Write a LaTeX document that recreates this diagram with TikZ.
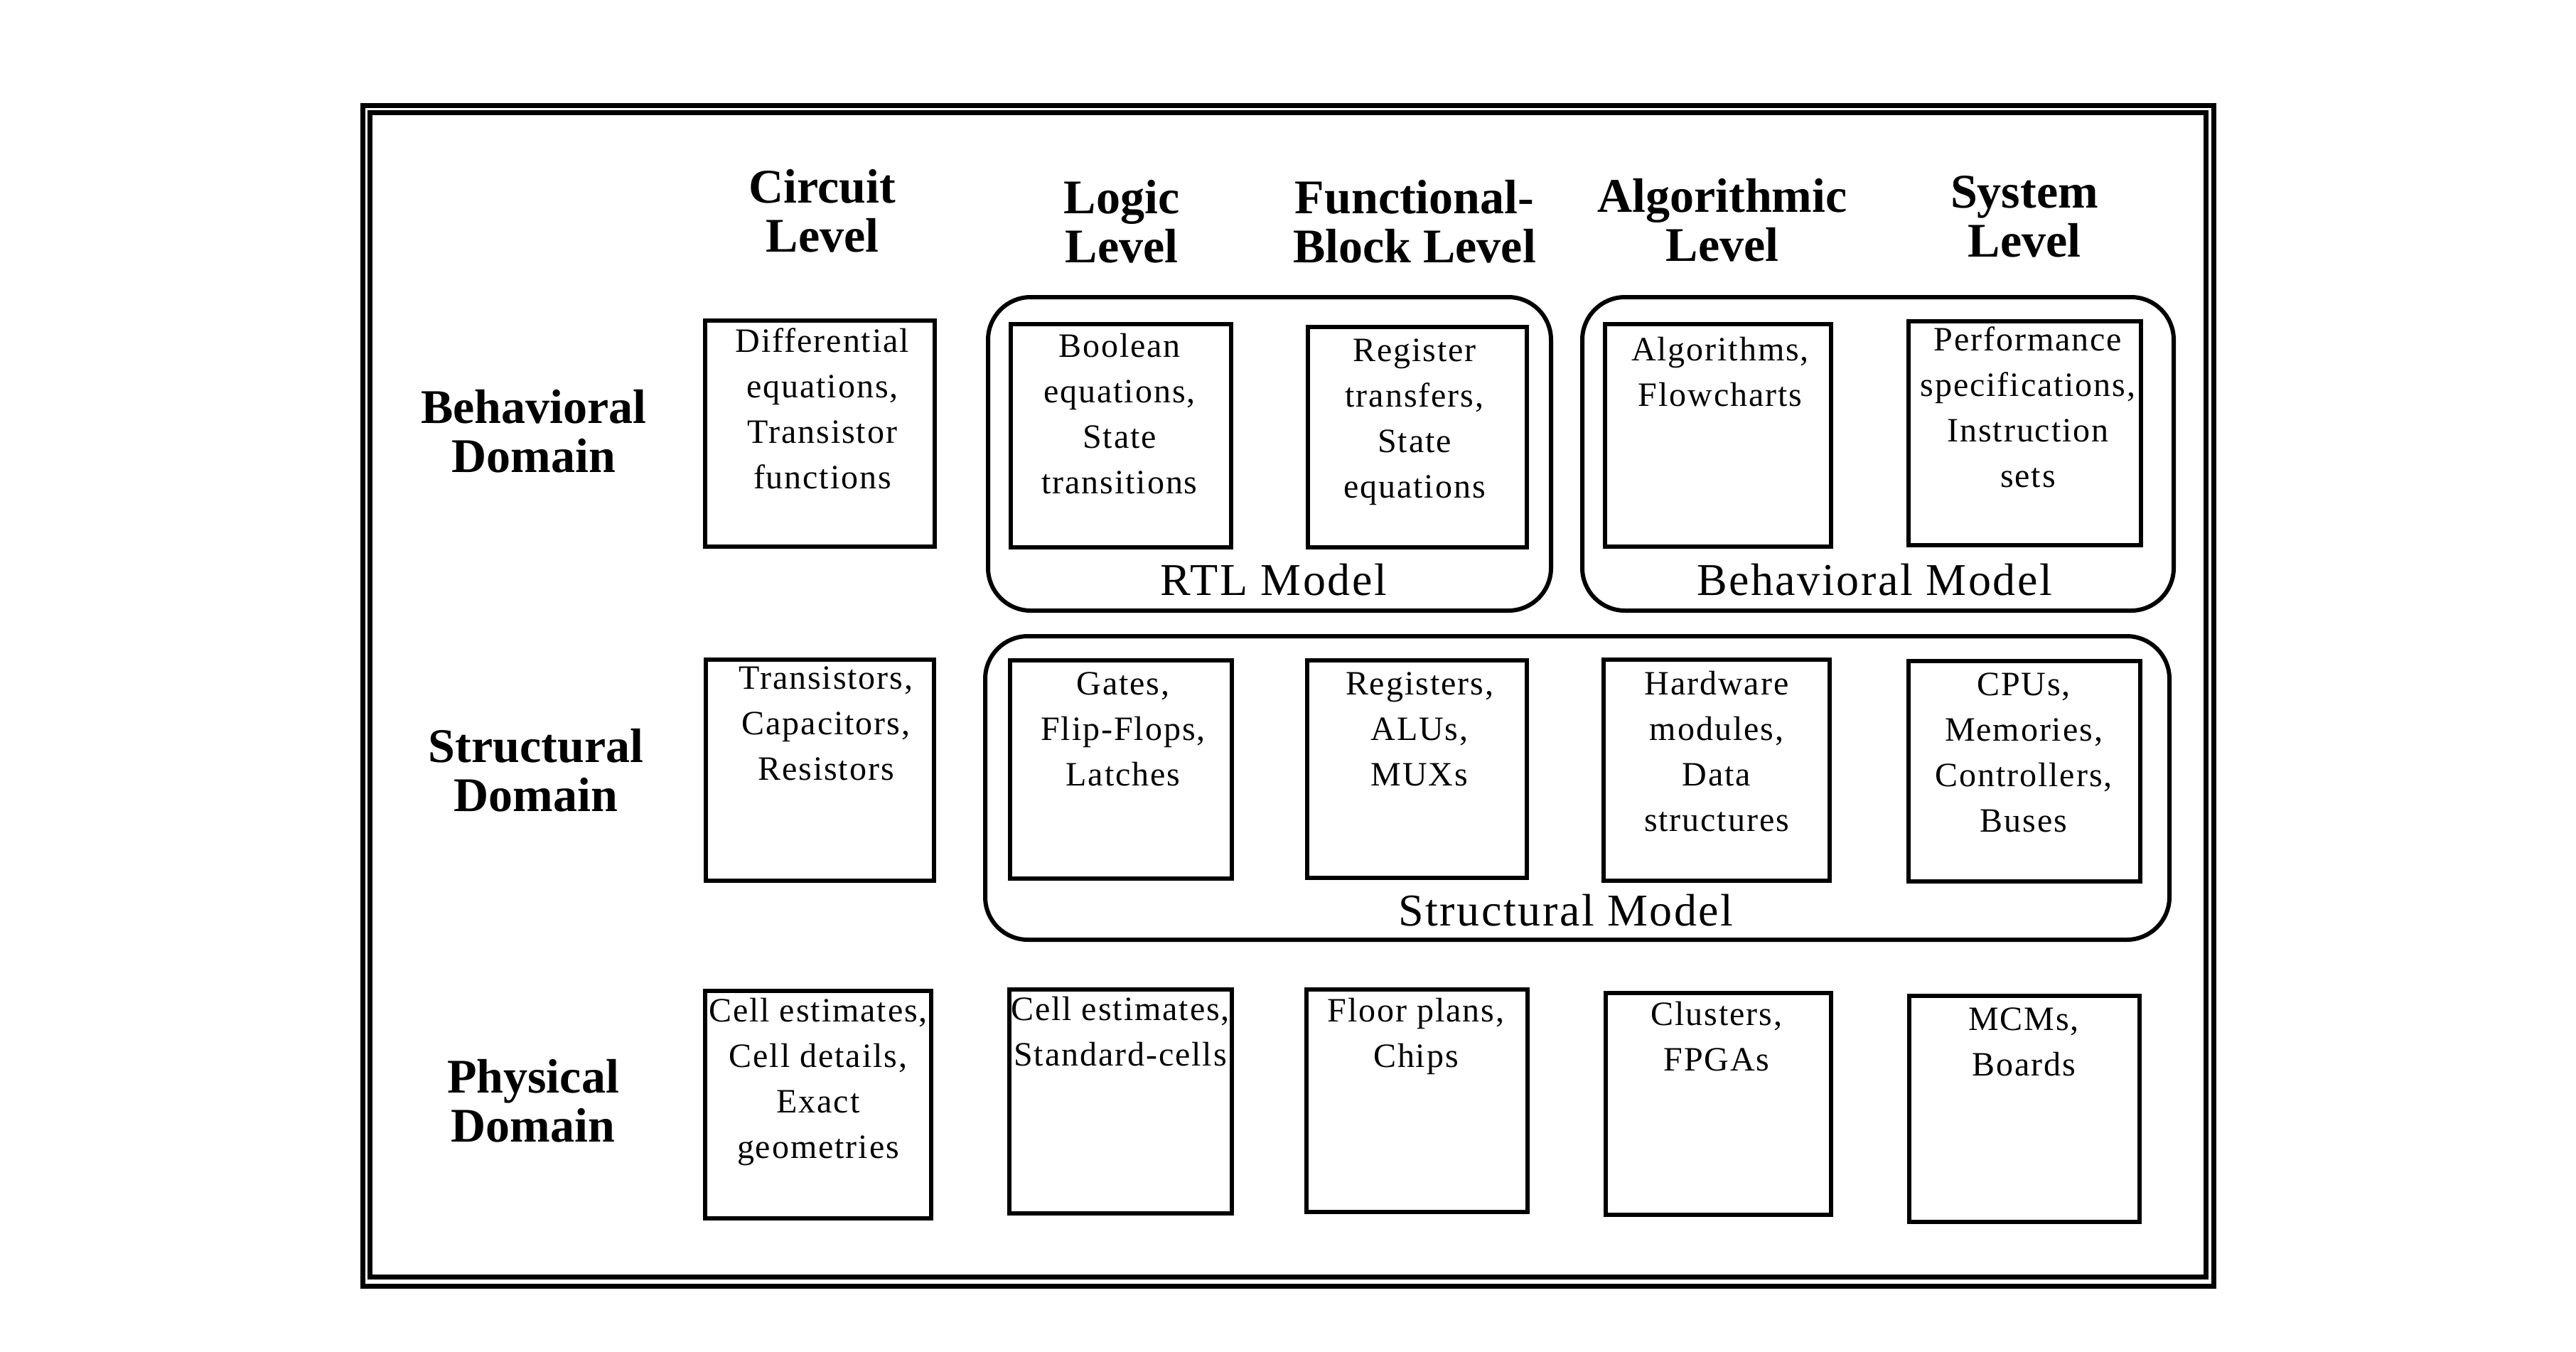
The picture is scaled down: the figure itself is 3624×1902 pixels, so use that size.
\documentclass[tikz,border=0pt]{standalone}
\usepackage{fontspec}
\setmainfont{Liberation Serif}
\newfontfamily\bodyf[LetterSpace=4]{Liberation Serif}
\newfontfamily\headf{Liberation Serif}
\tikzset{
  framebox/.style={draw=black, line width=7pt, inner sep=0pt},
  cellbox/.style={draw=black, line width=6pt, inner sep=0pt},
  modelbox/.style={draw=black, line width=6pt, inner sep=0pt, rounded corners=60pt},
  bodytext/.style={font=\bodyf\fontsize{48}{64}\selectfont, align=center, inner sep=0pt, anchor=north},
  headtext/.style={font=\headf\bfseries\fontsize{68}{69}\selectfont, align=center, inner sep=0pt, anchor=north},
  modeltext/.style={font=\bodyf\fontsize{64}{70}\selectfont, inner sep=0pt, anchor=base}
}
\begin{document}
\begin{tikzpicture}[x=1pt,y=-1pt]
\useasboundingbox (0,0) rectangle (3624,1902);
\fill[white] (0,0) rectangle (3624,1902);

% double frame
\node[framebox, minimum width=2604.5pt, minimum height=1660.5pt] (frameout) at (1812.25,978.75) {};
\node[framebox, minimum width=2583.5pt, minimum height=1637pt] (framein) at (1811.75,977.5) {};

% model groups
\node[modelbox, minimum width=792pt, minimum height=441pt] (mRTL) at (1786,638.5) {};
\node[modelbox, minimum width=832pt, minimum height=441pt] (mBeh) at (2642,638.5) {};
\node[modelbox, minimum width=1666pt, minimum height=427pt] (mStr) at (2219,1108.5) {};

% behavioral row boxes
\node[cellbox, minimum width=323pt, minimum height=318pt] (bBC) at (1153.5,610) {};
\node[cellbox, minimum width=310pt, minimum height=314pt] (bBL) at (1577,613) {};
\node[cellbox, minimum width=308pt, minimum height=310pt] (bBF) at (1994,615) {};
\node[cellbox, minimum width=318pt, minimum height=313pt] (bBA) at (2417,612.5) {};
\node[cellbox, minimum width=327pt, minimum height=315pt] (bBS) at (2848.5,609.5) {};

% structural row boxes
\node[cellbox, minimum width=321pt, minimum height=311pt] (bSC) at (1153.5,1083.5) {};
\node[cellbox, minimum width=312pt, minimum height=307pt] (bSL) at (1577,1082.5) {};
\node[cellbox, minimum width=309pt, minimum height=306pt] (bSF) at (1993.5,1082) {};
\node[cellbox, minimum width=318pt, minimum height=311pt] (bSA) at (2415,1083.5) {};
\node[cellbox, minimum width=326pt, minimum height=310pt] (bSS) at (2848,1085) {};

% physical row boxes
\node[cellbox, minimum width=318pt, minimum height=320pt] (bPC) at (1151,1554) {};
\node[cellbox, minimum width=313pt, minimum height=315pt] (bPL) at (1576.5,1549.5) {};
\node[cellbox, minimum width=311pt, minimum height=313pt] (bPF) at (1993.5,1548.5) {};
\node[cellbox, minimum width=317pt, minimum height=312pt] (bPA) at (2417.5,1553) {};
\node[cellbox, minimum width=324pt, minimum height=318pt] (bPS) at (2848,1560) {};

% column headers
\node[headtext] (hC) at (1157,236.7) {\strut Circuit\\Level};
\node[headtext] (hL) at (1578,251.7) {\strut Logic\\Level};
\node[headtext] (hF) at (1990,251.7) {\strut Functional-\\Block Level};
\node[headtext] (hA) at (2423,249.7) {\strut Algorithmic\\Level};
\node[headtext] (hS) at (2848,243.7) {\strut System\\Level};

% row labels
\node[headtext] (dB) at (751,546.7) {\strut Behavioral\\Domain};
\node[headtext] (dS) at (754,1023.7) {\strut Structural\\Domain};
\node[headtext] (dP) at (750,1488.7) {\strut Physical\\Domain};

% behavioral texts
\node[bodytext] (tBC) at (1157,450.2) {\strut Differential\\equations,\\Transistor\\functions};
\node[bodytext] (tBL) at (1575,457.2) {\strut Boolean\\equations,\\State\\transitions};
\node[bodytext] (tBF) at (1990,463.2) {\strut Register\\transfers,\\State\\equations};
\node[bodytext] (tBA) at (2420,462.2) {\strut Algorithms,\\Flowcharts};
\node[bodytext] (tBS) at (2853,448.2) {\strut Performance\\specifications,\\Instruction\\sets};

% structural texts
\node[bodytext] (tSC) at (1162,924.2) {\strut Transistors,\\Capacitors,\\Resistors};
\node[bodytext] (tSL) at (1580,932.2) {\strut Gates,\\Flip-Flops,\\Latches};
\node[bodytext] (tSF) at (1997,932.2) {\strut Registers,\\ALUs,\\MUXs};
\node[bodytext] (tSA) at (2415,932.2) {\strut Hardware\\modules,\\Data\\structures};
\node[bodytext] (tSS) at (2847,933.2) {\strut CPUs,\\Memories,\\Controllers,\\Buses};

% physical texts
\node[bodytext] (tPC) at (1151,1392.2) {\strut Cell estimates,\\Cell details,\\Exact\\geometries};
\node[bodytext] (tPL) at (1576,1390.2) {\strut Cell estimates,\\Standard-cells};
\node[bodytext] (tPF) at (1992,1392.2) {\strut Floor plans,\\Chips};
\node[bodytext] (tPA) at (2415,1397.2) {\strut Clusters,\\FPGAs};
\node[bodytext] (tPS) at (2847,1404.2) {\strut MCMs,\\Boards};

% model labels
\node[modeltext] (lRTL) at (1792,837) {RTL Model};
\node[modeltext] (lBeh) at (2637,837) {Behavioral Model};
\node[modeltext] (lStr) at (2203,1302) {Structural Model};
\end{tikzpicture}
\end{document}
